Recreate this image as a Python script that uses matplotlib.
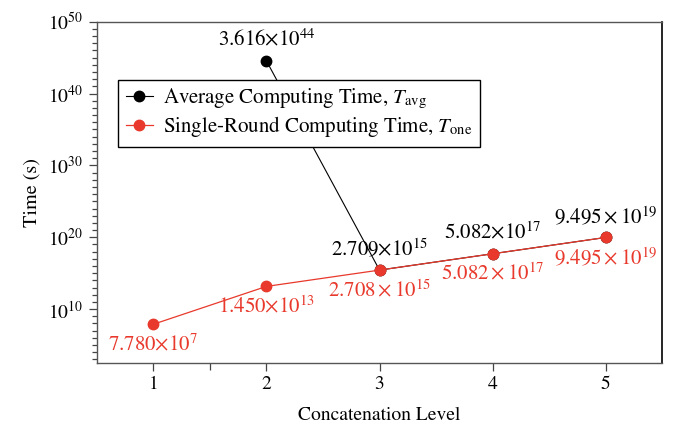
import matplotlib
matplotlib.use('Agg')
import matplotlib.pyplot as plt
import numpy as np
from matplotlib.ticker import FixedLocator, NullFormatter

plt.rcParams['font.family'] = ['STIXGeneral', 'DejaVu Serif']
plt.rcParams['mathtext.fontset'] = 'stix'

# data
x_avg = [2, 3, 4, 5]
t_avg = [3.616e44, 2.709e15, 5.082e17, 9.495e19]
lbl_avg = [r'$3.616{\times}10^{44}$', r'$2.709{\times}10^{15}$',
           r'$5.082{\times}10^{17}$', r'$9.495\times10^{19}$']

x_one = [1, 2, 3, 4, 5]
t_one = [7.780e7, 1.450e13, 2.708e15, 5.082e17, 9.495e19]
lbl_one = [r'$7.780{\times}10^{7}$', r'$1.450{\times}10^{13}$',
           r'$2.708\times10^{15}$', r'$5.082\times10^{17}$',
           r'$9.495\times10^{19}$']

red = '#e8392c'

fig = plt.figure(figsize=(6.84, 4.29), dpi=100)
ax = fig.add_axes([0.1414, 0.1538, 0.8269, 0.7956])

ax.plot(x_avg, t_avg, '-o', color='black', lw=0.8, ms=7.5,
        label=r'Average Computing Time, $T_{\rm avg}$', zorder=3)
ax.plot(x_one, t_one, '-o', color=red, lw=0.9, ms=7.5,
        label=r'Single-Round Computing Time, $T_{\rm one}$', zorder=4)

for xv, yv, s in zip(x_avg, t_avg, lbl_avg):
    ax.annotate(s, (xv, yv), xytext=(0, 15), textcoords='offset points',
                ha='center', va='center', fontsize=15, color='black')
for xv, yv, s in zip(x_one, t_one, lbl_one):
    ax.annotate(s, (xv, yv), xytext=(0, -14.5), textcoords='offset points',
                ha='center', va='center', fontsize=15, color=red)

ax.set_yscale('log')
ax.set_xlim(0.5, 5.5)
ax.set_ylim(10**2.5, 1e50)
ax.xaxis.set_major_locator(FixedLocator([1, 2, 3, 4, 5]))
ax.xaxis.set_minor_locator(FixedLocator([1.5]))
ax.yaxis.set_major_locator(FixedLocator([1e10, 1e20, 1e30, 1e40, 1e50]))
minor = [10.0 ** k for k in range(3, 50) if k % 10 != 0]
ax.yaxis.set_minor_locator(FixedLocator(minor))
ax.yaxis.set_minor_formatter(NullFormatter())

ax.tick_params(axis='both', which='major', direction='out', length=6,
               width=0.9, labelsize=14, color='#444444')
ax.tick_params(axis='both', which='minor', direction='out', length=3.5,
               width=0.9, color='#444444')
ax.tick_params(axis='x', which='minor', length=5)

for side in ['left', 'bottom', 'top']:
    ax.spines[side].set_color('#555555')
    ax.spines[side].set_linewidth(1.0)
ax.spines['right'].set_color('black')
ax.spines['right'].set_linewidth(1.2)

ax.set_xlabel('Concatenation Level', fontsize=14, labelpad=10)
ax.set_ylabel('Time (s)', fontsize=14.5, labelpad=6)

leg = ax.legend(loc='upper left', bbox_to_anchor=(0.038, 0.83),
                borderaxespad=0, fontsize=15, handlelength=1.3,
                handletextpad=0.5, borderpad=0.35, labelspacing=0.15,
                fancybox=False, framealpha=1, edgecolor='black')
leg.get_frame().set_linewidth(1.0)

fig.savefig('out.png', dpi=100)
